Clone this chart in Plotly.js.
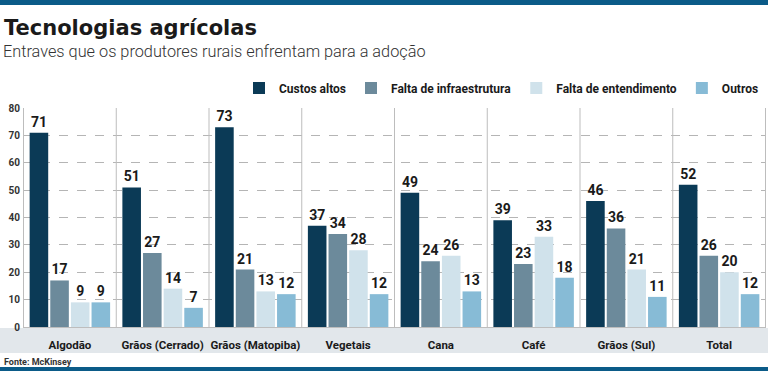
<!DOCTYPE html>
<html><head><meta charset="utf-8">
<script src="https://cdn.plot.ly/plotly-3.0.1.min.js"></script>
<style>html,body{margin:0;padding:0;background:#fff}#chart{width:768px;height:371px}</style>
</head><body><div id="chart"></div>
<script>
const categories = ["Algodão","Grãos (Cerrado)","Grãos (Matopiba)","Vegetais","Cana","Café","Grãos (Sul)","Total"];
const seriesNames = ["Custos altos","Falta de infraestrutura","Falta de entendimento","Outros"];
const custosAltos = [71,51,73,37,49,39,46,52];
const faltaInfra = [17,27,21,34,24,23,36,26];
const faltaEntend = [9,14,13,28,26,33,21,20];
const outros = [9,7,12,12,13,18,11,12];
const yTicks = [0,10,20,30,40,50,60,70,80];
const colors = ["#0b3a56","#6c8a9b","#d0e2eb","#87bbd6"];

const W=768,H=371,L=23,R=2,T=108,B=44;
const pw=W-L-R, ph=H-T-B;
const px=x=>(x-L)/pw, py=y=>(H-B-y)/ph;

const vals=[custosAltos,faltaInfra,faltaEntend,outros];
const data=vals.map((v,i)=>({
  type:'bar', x:categories, y:v, name:seriesNames[i],
  marker:{color:colors[i]},
  text:v.map(String), textposition:'outside', cliponaxis:false,
  textfont:{family:'Roboto',size:14,weight:'bold',color:'#1a1a1a'},
  hoverinfo:'none'
}));

const shapes=[];
for(let i=0;i<=categories.length;i++){
  shapes.push({type:'line',xref:'x',yref:'paper',x0:i-0.5,x1:i-0.5,y0:0,y1:1,line:{color:'#bdbdbd',width:1},layer:'above'});
}
shapes.push({type:'rect',xref:'paper',yref:'paper',x0:px(0),x1:px(W),y0:py(353),y1:py(328),fillcolor:'#e2e7eb',line:{width:0},layer:'below'});
shapes.push({type:'rect',xref:'paper',yref:'paper',x0:px(0),x1:px(W),y0:py(5),y1:py(-2),fillcolor:'#0b5b88',line:{width:0}});
shapes.push({type:'rect',xref:'paper',yref:'paper',x0:px(0),x1:px(W),y0:py(373),y1:py(367),fillcolor:'#0b5b88',line:{width:0}});

const layout={
  width:W,height:H,margin:{l:L,r:R,t:T,b:B},
  paper_bgcolor:'#fff',plot_bgcolor:'#fff',
  barmode:'group',bargap:0.11,bargroupgap:0.1,
  showlegend:true,
  legend:{orientation:'h',x:px(764),xanchor:'right',y:py(88),yanchor:'middle',
    font:{family:'Roboto',size:12,weight:'bold',color:'#1a1a1a'},traceorder:'normal',itemwidth:30},
  xaxis:{type:'category',showgrid:false,zeroline:false,showline:false,ticks:'',
    tickfont:{family:'Roboto',size:11.5,weight:'bold',color:'#1a1a1a'},ticklabelstandoff:9,fixedrange:true},
  yaxis:{range:[0,80],tickvals:yTicks,ticktext:yTicks.map(String),showgrid:true,gridcolor:'#b5b5b5',griddash:'dash',gridwidth:1,
    zeroline:true,zerolinecolor:'#bdbdbd',zerolinewidth:1,showline:false,ticks:'',
    tickfont:{family:'Roboto',size:10,weight:'bold',color:'#333'},ticklabelstandoff:2,fixedrange:true},
  shapes:shapes,
  annotations:[
    {xref:'paper',yref:'paper',x:px(2),y:py(28),xanchor:'left',yanchor:'middle',showarrow:false,
     text:'Tecnologias agrícolas',font:{family:'DejaVu Sans',size:21,weight:'bold',color:'#1a1a1a'}},
    {xref:'paper',yref:'paper',x:px(1),y:py(51.5),xanchor:'left',yanchor:'middle',showarrow:false,
     text:'Entraves que os produtores rurais enfrentam para a adoção',font:{family:'Roboto',size:16.3,weight:300,color:'#333'}},
    {xref:'paper',yref:'paper',x:px(2),y:py(362),xanchor:'left',yanchor:'middle',showarrow:false,
     text:'Fonte: McKinsey',font:{family:'Roboto',size:9,weight:'bold',color:'#333'}}
  ]
};
Plotly.newPlot('chart',data,layout,{displayModeBar:false,staticPlot:true});
</script></body></html>
